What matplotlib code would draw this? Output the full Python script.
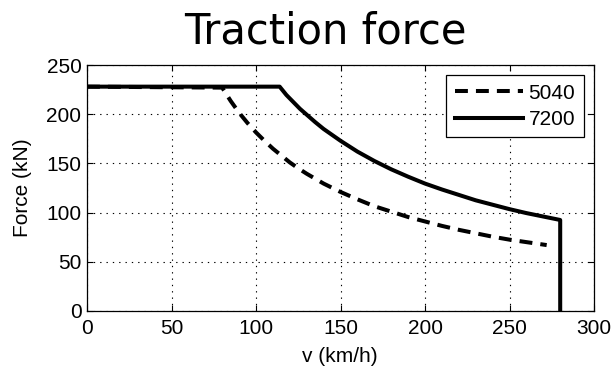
#!/usr/bin/env python3
# -*- coding: utf-8 -*-
"""traction_force.py — traction force vs speed for two power ratings"""

import matplotlib
matplotlib.use("Agg")
import matplotlib.pyplot as plt

# 5040 kW curve: constant force, then constant-power branch
V_5040 = [0, 80, 85, 90, 95, 100, 105, 110, 115, 120, 125, 130, 140, 150,
          160, 170, 180, 190, 200, 210, 220, 230, 240, 250, 260, 272]
F_5040 = [228, 227, 213.5, 201.5, 191, 181.5, 173, 165, 158, 151, 145, 139.5,
          129.5, 121, 113.5, 106.5, 101, 95.5, 91, 86.5, 82.5, 79, 75.5,
          72.5, 70, 67]

# 7200 kW curve, cut off at max speed
V_7200 = [0, 114, 118, 122, 126, 130, 135, 140, 145, 150, 160, 170, 180,
          190, 200, 210, 220, 230, 240, 250, 260, 270, 280, 280]
F_7200 = [228, 228, 219.5, 212.5, 205.5, 199.5, 192, 185, 179, 173, 162,
          152.5, 144, 136.5, 129.5, 123.5, 118, 112.5, 108, 103.5, 99.5,
          96, 92.5, 0]

LABELS = ["5040", "7200"]
X_TICKS = [0, 50, 100, 150, 200, 250, 300]
Y_TICKS = [0, 50, 100, 150, 200, 250]

W, H = 611, 366
plt.rcParams["font.family"] = ["Liberation Sans", "DejaVu Sans"]

fig = plt.figure(figsize=(W / 100, H / 100), dpi=100)
ax = fig.add_axes([87 / W, 1 - 311 / H, 507 / W, 246 / H])

ax.plot(V_5040, F_5040, color="black", linewidth=2.9, linestyle=(0, (3.2, 2.0)),
        label=LABELS[0])
ax.plot(V_7200, F_7200, color="black", linewidth=2.9, linestyle="-",
        label=LABELS[1])

ax.set_xlim(0, 300)
ax.set_ylim(0, 250)
ax.set_xticks(X_TICKS)
ax.set_yticks(Y_TICKS)
ax.tick_params(direction="in", length=4, width=0.8, labelsize=15,
               top=True, right=True, colors="black")
ax.tick_params(axis="x", pad=5.5)
ax.tick_params(axis="y", pad=4)
ax.grid(True, color="black", linestyle=(0, (1.2, 4.5)), linewidth=0.8)
for s in ax.spines.values():
    s.set_linewidth(0.9)

leg = ax.legend(loc="upper right", fontsize=15, handlelength=3.3,
                handletextpad=0.25, labelspacing=0.35, borderpad=0.4,
                borderaxespad=0.5, fancybox=False, framealpha=1,
                edgecolor="black")
leg.get_frame().set_linewidth(0.9)

fig.text(23 / W, 1 - 188 / H, "Force (kN)", rotation=90, ha="center",
         va="center", fontsize=15)
fig.text(340 / W, 1 - 356 / H, "v (km/h)", ha="center", va="center",
         fontsize=15)
fig.text(325 / W, 1 - 43 / H, "Traction force", ha="center", va="baseline",
         fontsize=30, family="DejaVu Sans")

fig.savefig("out.png", dpi=100)
